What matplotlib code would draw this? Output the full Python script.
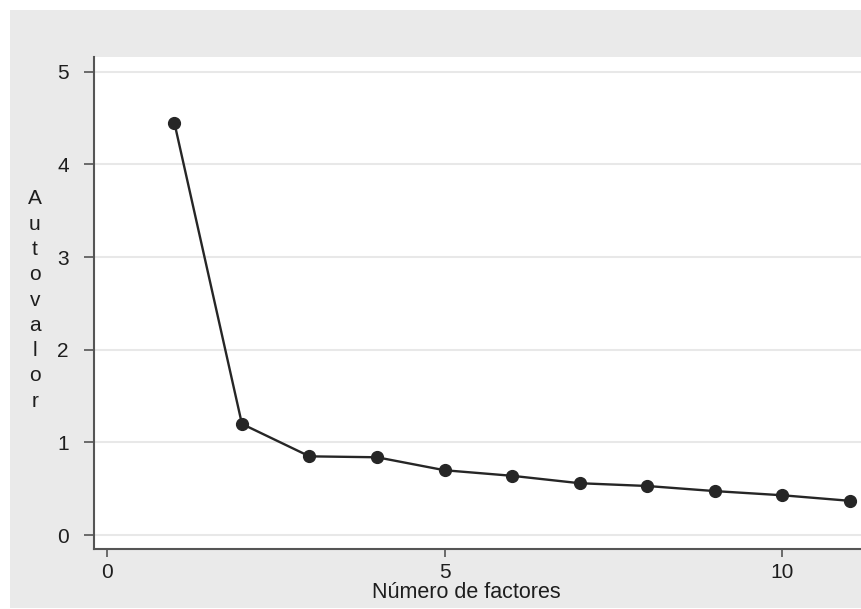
import matplotlib.pyplot as plt

# eigenvalues
factores = [1, 2, 3, 4, 5, 6, 7, 8, 9, 10, 11]
autovalores = [4.45, 1.20, 0.85, 0.84, 0.70, 0.64, 0.56, 0.53, 0.475, 0.43, 0.37]
xticks = [0, 5, 10]
yticks = [0, 1, 2, 3, 4, 5]

plt.rcParams['font.family'] = ['Liberation Sans', 'DejaVu Sans']

fig = plt.figure(figsize=(8.62, 6.09), dpi=100)
fig.patch.set_facecolor('white')

# gray background band behind the plot region
bg = fig.add_axes([10 / 862, 1 / 609, 1.0, 598 / 609], zorder=0)
bg.set_facecolor('#eaeaea')
bg.set_xticks([])
bg.set_yticks([])
for s in bg.spines.values():
    s.set_visible(False)

ax = fig.add_axes([94 / 862, 1 - 549 / 609, 1 - 94 / 862, (549 - 57) / 609], zorder=1)
ax.set_facecolor('white')

ax.plot(factores, autovalores, color='#262626', linewidth=1.7,
        marker='o', markersize=8.5, markerfacecolor='#262626',
        markeredgecolor='#262626', zorder=3)

ax.set_xlim(-0.19, 11.18)
ax.set_ylim(-0.15, 5.16)
ax.set_xticks(xticks)
ax.set_yticks(yticks)

for y in yticks:
    ax.axhline(y, color='#e8e8e8', linewidth=1.5, zorder=1)

for side in ['top', 'right']:
    ax.spines[side].set_visible(False)
for side in ['left', 'bottom']:
    ax.spines[side].set_color('#555555')
    ax.spines[side].set_linewidth(1.5)

ax.tick_params(axis='y', length=7, width=1.2, color='#555555', pad=11,
               labelsize=15, labelcolor='#1e1e1e')
ax.tick_params(axis='x', length=6, width=1.2, color='#555555', pad=4,
               labelsize=15, labelcolor='#1e1e1e')

fig.text(466 / 862, 1 - 593 / 609, 'Número de factores', ha='center',
         va='center', fontsize=15.5, color='#1e1e1e')

fig.text(35 / 862, 1 - 300 / 609, '\n'.join('Autovalor'), ha='center',
         va='center', fontsize=15, color='#1e1e1e', linespacing=1.42)

fig.savefig('out.png', dpi=100)
